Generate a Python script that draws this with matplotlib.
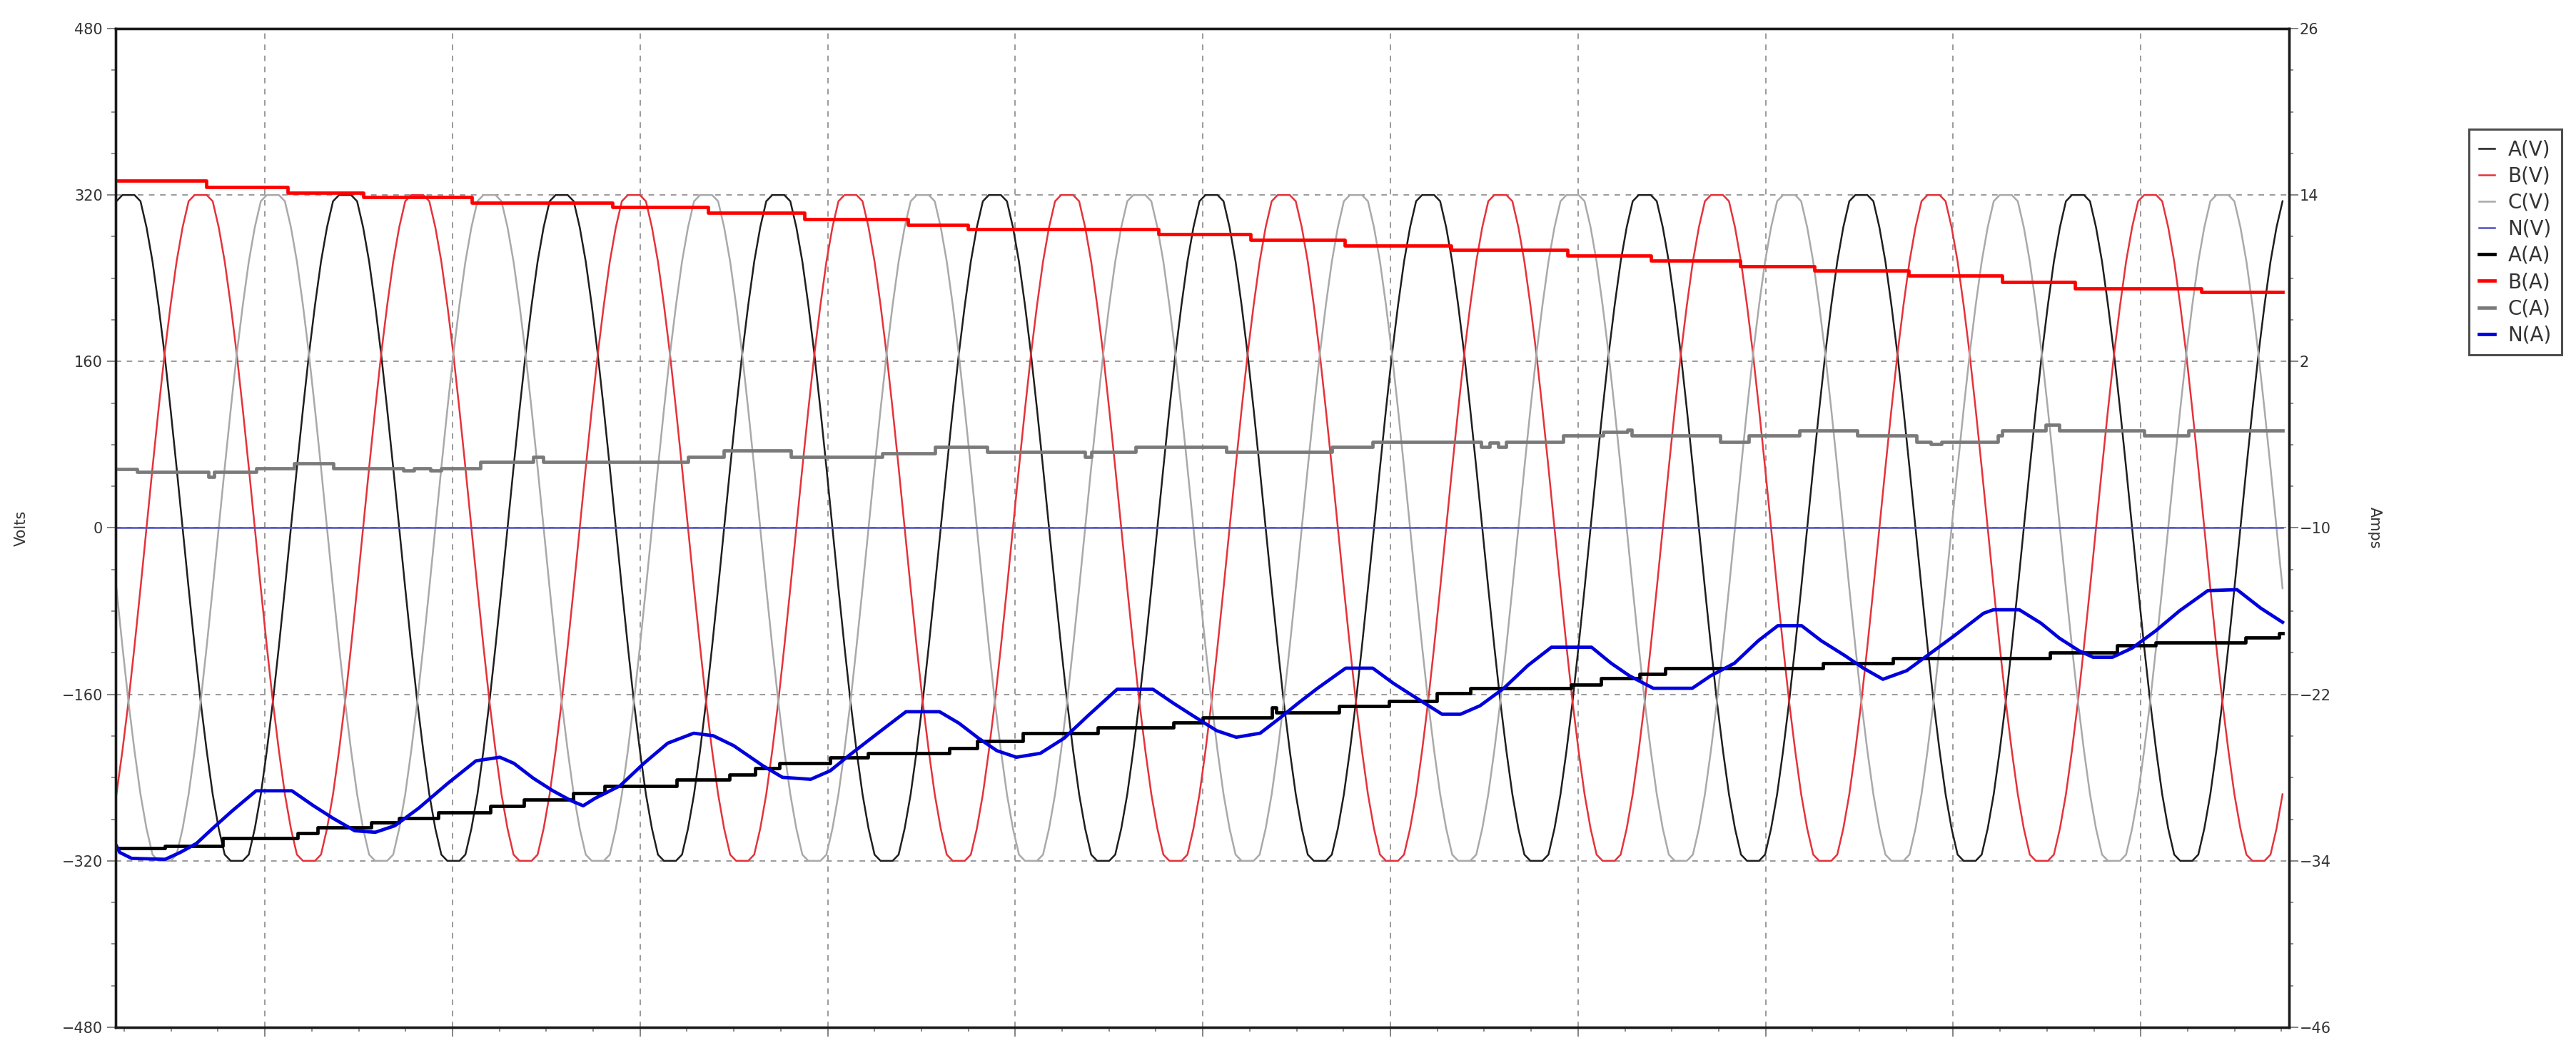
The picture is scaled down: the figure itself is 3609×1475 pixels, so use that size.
import numpy as np
import matplotlib.pyplot as plt
from matplotlib.ticker import FixedLocator, MultipleLocator, NullFormatter

plt.rcParams['font.family'] = ['DejaVu Sans']

# one cycle of phase A voltage (36 samples, starting at the left edge)
va_cycle = [314, 320, 320, 320, 314, 289, 256, 214, 167, 114, 58, 0,
            -58, -114, -167, -214, -256, -289, -314, -320, -320, -320, -314, -289,
            -256, -214, -167, -114, -58, 0, 58, 114, 167, 214, 256, 289]
n_cycles = 10
cycle_ms = 20.0
nv_t = [0, 200]
nv_volts = [0, 0]

# phase currents (Amps) as read: step times (ms) and levels
ia_t = [0, 4.5, 9.8, 16.7, 18.6, 23.5, 26.1, 29.7, 34.5, 37.6, 42.2, 45.1, 51.7, 56.6,
        59.0, 61.2, 65.9, 69.4, 76.9, 79.5, 83.7, 90.6, 97.6, 100.3, 106.7, 107.1,
        112.9, 117.5, 121.9, 125.0, 134.3, 137.1, 140.6, 143.0, 157.6, 164.0, 178.5,
        184.7, 188.3, 196.6, 199.7, 200]
ia = [-33.10, -32.92, -32.38, -32.02, -31.58, -31.22, -30.93, -30.50, -30.03, -29.56,
      -29.13, -28.59, -28.12, -27.76, -27.33, -26.97, -26.53, -26.25, -25.88, -25.34,
      -24.80, -24.37, -24.01, -23.65, -22.93, -23.29, -22.82, -22.46, -21.92, -21.56,
      -21.31, -20.84, -20.55, -20.11, -19.75, -19.39, -18.96, -18.49, -18.24, -17.88,
      -17.59, -17.59]

ib_t = [0, 8.3, 15.8, 22.8, 32.8, 45.8, 54.6, 63.5, 73.1, 78.6, 96.2, 104.7, 113.4,
        123.2, 134.0, 141.7, 149.9, 156.8, 165.5, 174.1, 180.8, 192.5, 200]
ib = [15.05, 14.58, 14.14, 13.86, 13.42, 13.13, 12.70, 12.27, 11.87, 11.55, 11.19,
      10.79, 10.36, 10.07, 9.64, 9.28, 8.84, 8.55, 8.19, 7.73, 7.29, 7.00, 7.00]

ic_t = [0, 1.9, 8.5, 9.0, 12.9, 16.4, 20.0, 26.5, 27.5, 29.0, 30.0, 33.6, 38.5, 39.4,
        52.8, 56.1, 62.3, 70.7, 75.6, 80.4, 89.4, 90.0, 94.1, 102.5, 112.2, 116.0,
        126.0, 126.8, 127.6, 128.3, 133.6, 137.3, 139.5, 139.9, 148.1, 150.7, 155.4,
        160.7, 166.2, 167.5, 168.5, 173.7, 174.1, 178.1, 179.4, 187.2, 191.3, 200]
ic = [-5.76, -5.98, -6.30, -5.98, -5.69, -5.33, -5.69, -5.85, -5.69, -5.85, -5.69,
      -5.22, -4.90, -5.22, -4.90, -4.43, -4.90, -4.61, -4.17, -4.50, -4.90, -4.50,
      -4.14, -4.50, -4.14, -3.78, -4.14, -3.85, -4.14, -3.78, -3.35, -3.09, -2.91,
      -3.35, -3.78, -3.35, -2.98, -3.35, -3.78, -3.95, -3.78, -3.35, -2.98, -2.55,
      -2.98, -3.35, -2.98, -2.98]

in_t = [0, 0.3, 1.4, 4.5, 5.9, 7.4, 8.9, 10.7, 12.9, 16.2, 18.2, 20.0, 22.0, 23.9,
        25.7, 27.9, 30.6, 33.2, 35.4, 36.7, 38.5, 40.3, 42.0, 43.1, 44.2, 46.5, 48.7,
        50.9, 53.3, 55.1, 57.0, 59.7, 61.5, 64.1, 65.9, 67.6, 69.4, 71.2, 72.9, 76.0,
        77.8, 79.6, 81.3, 83.1, 85.3, 87.5, 89.7, 92.4, 95.7, 97.6, 99.4, 101.6, 103.4,
        105.6, 107.4, 109.1, 110.9, 113.5, 116.0, 117.9, 119.7, 122.4, 124.1, 125.9,
        128.1, 130.3, 132.5, 136.2, 138.0, 139.7, 141.9, 145.5, 147.2, 149.4, 151.6,
        153.4, 155.6, 157.4, 159.6, 161.3, 163.1, 165.3, 167.5, 169.7, 172.4, 173.3,
        175.7, 177.7, 179.4, 181.2, 182.5, 184.3, 186.1, 188.3, 190.5, 193.1, 195.8,
        198.0, 200.0]
in_amps = [-32.92, -33.39, -33.82, -33.89, -33.39, -32.74, -31.65, -30.39, -28.95,
           -28.95, -30.03, -30.93, -31.83, -31.94, -31.47, -30.21, -28.41, -26.79,
           -26.53, -26.97, -28.05, -28.95, -29.67, -30.03, -29.49, -28.59, -26.97,
           -25.52, -24.80, -24.98, -25.70, -27.15, -27.98, -28.12, -27.51, -26.43,
           -25.34, -24.26, -23.25, -23.25, -24.08, -25.16, -26.06, -26.53, -26.25,
           -25.16, -23.54, -21.63, -21.63, -22.64, -23.54, -24.62, -25.09, -24.80,
           -23.72, -22.64, -21.56, -20.11, -20.11, -21.20, -22.10, -23.43, -23.43,
           -22.82, -21.56, -19.93, -18.60, -18.60, -19.75, -20.66, -21.56, -21.56,
           -20.66, -19.75, -18.13, -17.05, -17.05, -18.13, -19.21, -20.11, -20.91,
           -20.29, -19.03, -17.77, -16.15, -15.90, -15.90, -16.87, -17.95, -18.85,
           -19.32, -19.32, -18.67, -17.41, -15.97, -14.52, -14.45, -15.79, -16.80]

volt_ticks = [-480, -320, -160, 0, 160, 320, 480]
amp_ticks = [-46, -34, -22, -10, 2, 14, 26]

# build the voltage traces (B lags A by a third of a cycle, C by two thirds)
per = len(va_cycle)
va_full = np.tile(va_cycle, n_cycles)
t = np.linspace(0, n_cycles * cycle_ms, per * n_cycles + 1)
va = np.append(va_full, va_full[0])
vb_full = np.roll(va_full, per // 3)
vc_full = np.roll(va_full, 2 * per // 3)
vb = np.append(vb_full, vb_full[0])
vc = np.append(vc_full, vc_full[0])

fig = plt.figure(figsize=(36.09, 14.75), dpi=100)
ax = fig.add_axes([0.0449, 0.0244, 0.8437, 0.9485])
ax2 = ax.twinx()

thin = 1.8
thick = 3.4
l1, = ax.plot(t, va, color='#1e1e1e', lw=thin, label='A(V)')
l2, = ax.plot(t, vb, color='#e5323a', lw=thin, label='B(V)')
l3, = ax.plot(t, vc, color='#a9a9a9', lw=thin, label='C(V)')
l4, = ax.plot(nv_t, nv_volts, color='#5050c4', lw=thin, label='N(V)')

l5, = ax2.plot(ia_t, ia, drawstyle='steps-post', color='#000000', lw=thick, label='A(A)')
l6, = ax2.plot(ib_t, ib, drawstyle='steps-post', color='#ff0000', lw=thick, label='B(A)')
l7, = ax2.plot(ic_t, ic, drawstyle='steps-post', color='#7a7a7a', lw=thick, label='C(A)')
l8, = ax2.plot(in_t, in_amps, color='#0000dd', lw=thick, label='N(A)')

# axes ranges
ax.set_xlim(-0.07, 200.6)
ax.set_ylim(volt_ticks[0], volt_ticks[-1])
ax2.set_ylim(amp_ticks[0], amp_ticks[-1])

ax.yaxis.set_major_locator(FixedLocator(volt_ticks))
ax.yaxis.set_minor_locator(MultipleLocator(40))
ax2.yaxis.set_major_locator(FixedLocator(amp_ticks))
ax2.yaxis.set_minor_locator(FixedLocator(np.arange(amp_ticks[0], amp_ticks[-1] + 1, 3)))

grid_start = 13.71
grid_step = 17.32
ax.xaxis.set_major_locator(FixedLocator(grid_start + grid_step * np.arange(11)))
ax.xaxis.set_minor_locator(FixedLocator(grid_start + grid_step / 4 * np.arange(-3, 44)))
ax.xaxis.set_major_formatter(NullFormatter())

ax.grid(True, which='major', color='#9a9a9a', linestyle=(0, (4, 4)), lw=1.4)

for a in (ax, ax2):
    for s in a.spines.values():
        s.set_linewidth(2.4)
        s.set_color('#1a1a1a')
    a.tick_params(which='major', direction='out', length=9, width=1.3, color='#7a7a7a',
                  labelsize=15, labelcolor='#333333')
    a.tick_params(which='minor', direction='out', length=4.5, width=1.2, color='#7a7a7a')
ax.tick_params(axis='y', pad=4)
ax2.tick_params(axis='y', pad=1.5)

ax.set_ylabel('Volts', fontsize=15, color='#333333')
ax.yaxis.set_label_coords(-0.040, 0.5)
ax2.set_ylabel('Amps', fontsize=15, color='#333333', rotation=270, va='center')
ax2.yaxis.set_label_coords(1.0394, 0.5)

handles = [l1, l2, l3, l4, l5, l6, l7, l8]
leg = fig.legend(handles, [h.get_label() for h in handles], loc='upper left',
                 bbox_to_anchor=(0.9585, 0.877), fontsize=20, frameon=True,
                 fancybox=False, edgecolor='#222222', handlelength=0.8,
                 handletextpad=0.65, labelspacing=0.33, borderpad=0.5,
                 borderaxespad=0)
leg.get_frame().set_linewidth(2.2)
for txt in leg.get_texts():
    txt.set_color('#333333')

fig.savefig('out.png', dpi=100, facecolor='white')
